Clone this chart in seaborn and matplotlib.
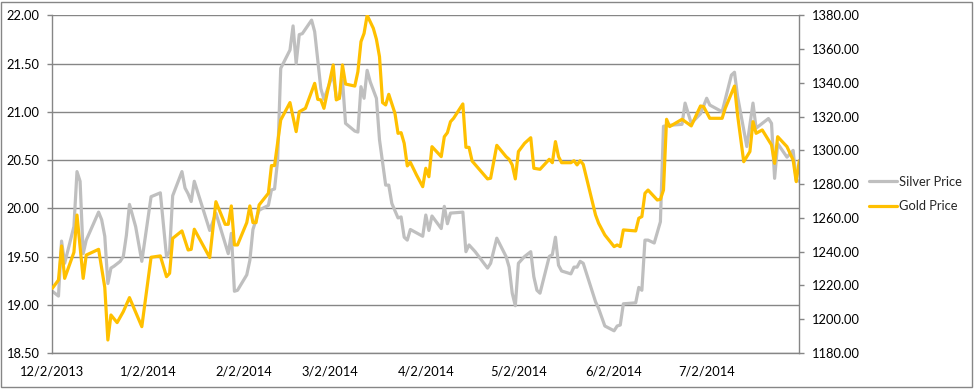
import pandas as pd
import matplotlib
matplotlib.use('Agg')
import matplotlib.pyplot as plt
import matplotlib.dates as mdates
from matplotlib.patches import Rectangle
import seaborn as sns

# silver price (left axis)
silver_dates = (
    ['2013-12-%02d' % d for d in [2, 4, 5, 6, 9, 10, 11, 12, 13, 17, 18, 19, 20, 21, 22, 24, 25, 26, 27, 29, 31]]
    + ['2014-01-%02d' % d for d in [3, 6, 8, 9, 10, 13, 14, 15, 16, 17, 22, 24, 26, 28, 29, 30, 31]]
    + ['2014-02-%02d' % d for d in [3, 4, 5, 6, 7, 10, 11, 12, 13, 14, 17, 18, 19, 20, 21, 24, 25, 27, 28]]
    + ['2014-03-%02d' % d for d in [2, 3, 4, 5, 6, 7, 10, 11, 12, 13, 14, 15, 17, 18, 20, 21, 22, 24, 25, 26, 27, 28]]
    + ['2014-04-%02d' % d for d in [1, 2, 3, 4, 7, 8, 9, 10, 14, 15, 16, 18, 22, 23, 25, 28, 29, 30]]
    + ['2014-05-%02d' % d for d in [1, 2, 4, 6, 7, 8, 9, 12, 13, 14, 15, 16, 19, 20, 21, 22, 23, 27, 28, 30]]
    + ['2014-06-%02d' % d for d in [2, 3, 4, 5, 9, 10, 11, 12, 13, 15, 17, 18, 20, 24, 25, 27, 30]]
    + ['2014-07-%02d' % d for d in [2, 3, 7, 10, 11, 12, 15, 17, 18, 22, 23, 24, 25, 28, 30, 31]]
    + ['2014-08-01']
)
silver_price = [
    19.14, 19.09, 19.66, 19.43, 19.81, 20.38, 20.28, 19.53, 19.67, 19.96, 19.88, 19.71, 19.22, 19.38, 19.40, 19.45, 19.50, 19.72, 20.04, 19.81, 19.45,
    20.12, 20.16, 19.50, 19.55, 20.13, 20.38, 20.21, 20.15, 20.07, 20.28, 19.77, 19.95, 19.74, 19.53, 19.74, 19.14, 19.15,
    19.31, 19.46, 19.78, 19.88, 19.98, 20.03, 20.19, 20.20, 20.50, 21.45, 21.64, 21.89, 21.50, 21.80, 21.81, 21.95, 21.83, 21.24, 21.13,
    21.31, 21.38, 21.15, 21.14, 21.33, 20.88, 20.80, 20.79, 21.26, 21.14, 21.43, 21.31, 21.14, 20.71, 20.24, 20.24, 20.05, 19.90, 19.91, 19.70, 19.67, 19.78,
    19.71, 19.93, 19.77, 19.92, 19.79, 20.02, 19.84, 19.95, 19.96, 19.55, 19.62, 19.55, 19.38, 19.43, 19.69, 19.50, 19.39, 19.12,
    18.99, 19.43, 19.50, 19.55, 19.29, 19.15, 19.12, 19.50, 19.52, 19.70, 19.41, 19.35, 19.32, 19.39, 19.39, 19.45, 19.43, 19.03, 18.96, 18.78,
    18.73, 18.78, 18.79, 19.01, 19.02, 19.18, 19.15, 19.67, 19.67, 19.64, 19.86, 20.85, 20.86, 20.87, 21.09, 20.88, 20.98,
    21.14, 21.07, 21.00, 21.38, 21.41, 21.16, 20.64, 21.09, 20.83, 20.93, 20.88, 20.31, 20.67, 20.53, 20.60, 20.29,
    20.28,
]

# gold price (right axis)
gold_dates = (
    ['2013-12-%02d' % d for d in [2, 4, 5, 6, 9, 10, 12, 13, 17, 19, 20, 21, 23, 25, 27, 31]]
    + ['2014-01-%02d' % d for d in [3, 6, 8, 9, 10, 13, 15, 16, 17, 22, 24, 27, 28, 29, 30, 31]]
    + ['2014-02-%02d' % d for d in [3, 4, 5, 6, 7, 10, 11, 12, 14, 17, 19, 20, 22, 25, 26, 27, 28]]
    + ['2014-03-%02d' % d for d in [3, 4, 5, 6, 7, 10, 11, 12, 13, 14, 16, 17, 18, 19, 20, 21, 23, 24, 25, 26, 27, 28, 30]]
    + ['2014-04-%02d' % d for d in [1, 2, 3, 4, 7, 8, 9, 10, 11, 14, 15, 16, 17, 22, 23, 25, 28, 29, 30]]
    + ['2014-05-%02d' % d for d in [1, 2, 4, 6, 7, 9, 12, 13, 14, 15, 16, 19, 20, 21, 22, 23, 27, 28, 30]]
    + ['2014-06-%02d' % d for d in [2, 3, 4, 5, 9, 10, 11, 12, 13, 16, 17, 18, 19, 20, 24, 27, 30]]
    + ['2014-07-%02d' % d for d in [1, 3, 7, 8, 11, 12, 14, 16, 17, 18, 20, 23, 24, 25, 28, 30, 31]]
    + ['2014-08-01']
)
gold_price = [
    1218.3, 1223.2, 1243.4, 1224.2, 1239.6, 1261.7, 1224.2, 1238.0, 1241.4, 1218.9, 1187.7, 1202.5, 1198.0, 1204.5, 1212.8, 1195.6,
    1236.7, 1237.5, 1225.2, 1227.2, 1247.9, 1252.3, 1241.0, 1241.4, 1253.3, 1236.5, 1269.6, 1256.2, 1256.2, 1267.1, 1244.0, 1244.0,
    1257.2, 1267.1, 1257.2, 1257.2, 1267.7, 1274.6, 1291.0, 1291.0, 1318.0, 1328.3, 1311.1, 1322.9, 1324.9, 1339.7, 1330.2, 1329.9, 1324.9,
    1350.6, 1329.9, 1330.8, 1350.6, 1339.3, 1338.1, 1346.6, 1364.4, 1369.3, 1380.0, 1372.3, 1365.8, 1355.5, 1328.3, 1326.9, 1333.2, 1322.0, 1310.1, 1310.5, 1304.2, 1290.8, 1292.9, 1285.4,
    1278.5, 1289.4, 1284.4, 1302.2, 1296.3, 1308.1, 1310.5, 1317.0, 1319.0, 1327.5, 1301.8, 1301.8, 1293.7, 1283.1, 1283.5, 1303.0, 1296.3, 1294.7, 1291.4,
    1283.1, 1299.3, 1304.2, 1307.5, 1289.4, 1288.8, 1294.7, 1292.7, 1305.2, 1296.3, 1292.7, 1292.7, 1293.9, 1291.4, 1293.9, 1291.7, 1261.7, 1256.8, 1249.9,
    1243.0, 1244.0, 1243.0, 1252.9, 1252.3, 1259.8, 1260.8, 1274.6, 1276.5, 1270.6, 1271.0, 1276.5, 1318.4, 1314.1, 1318.4, 1314.5, 1326.3,
    1325.9, 1319.0, 1319.0, 1324.9, 1338.1, 1321.0, 1293.3, 1299.3, 1317.0, 1310.1, 1312.1, 1303.2, 1292.3, 1308.1, 1302.2, 1294.3, 1281.5,
    1293.9,
]

x_ticks = ['2013-12-02', '2014-01-02', '2014-02-02', '2014-03-02',
           '2014-04-02', '2014-05-02', '2014-06-02', '2014-07-02']
silver_ticks = [18.5, 19.0, 19.5, 20.0, 20.5, 21.0, 21.5, 22.0]
gold_ticks = [1180, 1200, 1220, 1240, 1260, 1280, 1300, 1320, 1340, 1360, 1380]

silver_df = pd.DataFrame({'date': pd.to_datetime(silver_dates), 'price': silver_price})
gold_df = pd.DataFrame({'date': pd.to_datetime(gold_dates), 'price': gold_price})

sns.set_theme(style='white')
plt.rcParams['font.family'] = ['Lato', 'DejaVu Sans']

SILVER = '#BFBFBF'
GOLD = '#FFC000'
AXIS = '#868686'
FS = 9.3

fig = plt.figure(figsize=(9.74, 3.89), dpi=100)
ax = fig.add_axes([52.3 / 974, 1 - 353 / 389, (799.3 - 52.3) / 974, (353 - 15.3) / 389])
ax2 = ax.twinx()

sns.lineplot(data=silver_df, x='date', y='price', ax=ax, color=SILVER, lw=2.3, legend=False)
sns.lineplot(data=gold_df, x='date', y='price', ax=ax2, color=GOLD, lw=2.3, legend=False)

ax.set_xlim(pd.Timestamp('2013-12-02'), pd.Timestamp('2014-08-01'))
ax.set_ylim(18.5, 22.0)
ax2.set_ylim(1180, 1380)

tick_dates = pd.to_datetime(x_ticks)
ax.set_xticks(mdates.date2num(tick_dates))
ax.set_xticklabels([f'{d.month}/{d.day}/{d.year}' for d in tick_dates])
ax.set_yticks(silver_ticks)
ax.set_yticklabels([f'{v:.2f}' for v in silver_ticks])
ax2.set_yticks(gold_ticks)
ax2.set_yticklabels([f'{v:.2f}' for v in gold_ticks])

ax.grid(axis='y', color=AXIS, lw=1)
ax.grid(axis='x', visible=False)
ax.set_axisbelow(True)
ax.set_xlabel('')
ax.set_ylabel('')
ax2.set_ylabel('')

for a in (ax, ax2):
    for side in ('left', 'right', 'bottom'):
        a.spines[side].set_color(AXIS)
        a.spines[side].set_linewidth(1)
    a.spines['top'].set_visible(False)
ax.spines['right'].set_visible(False)
ax2.spines['left'].set_visible(False)
ax2.spines['bottom'].set_visible(False)

ax.tick_params(axis='both', direction='out', length=3.5, width=1, color=AXIS,
               labelsize=FS, labelcolor='black', pad=5.5)
ax.tick_params(axis='y', left=True)
ax2.tick_params(axis='y', direction='out', length=3.5, width=1, color=AXIS,
                labelsize=FS, labelcolor='black', pad=5.5, right=True)

handles = [plt.Line2D([], [], color=SILVER, lw=2.3), plt.Line2D([], [], color=GOLD, lw=2.3)]
fig.legend(handles, ['Silver Price', 'Gold Price'], loc='upper left',
           bbox_to_anchor=(869 / 974, 1 - 176 / 389), frameon=False,
           fontsize=FS, handlelength=2.2, handletextpad=0.15,
           labelspacing=0.95, borderpad=0, borderaxespad=0)

fig.patches.append(Rectangle((1 / 974, 2 / 389), 971 / 974, 385 / 389, transform=fig.transFigure,
                             fill=False, edgecolor=AXIS, lw=1))

fig.savefig('out.png', dpi=100)
